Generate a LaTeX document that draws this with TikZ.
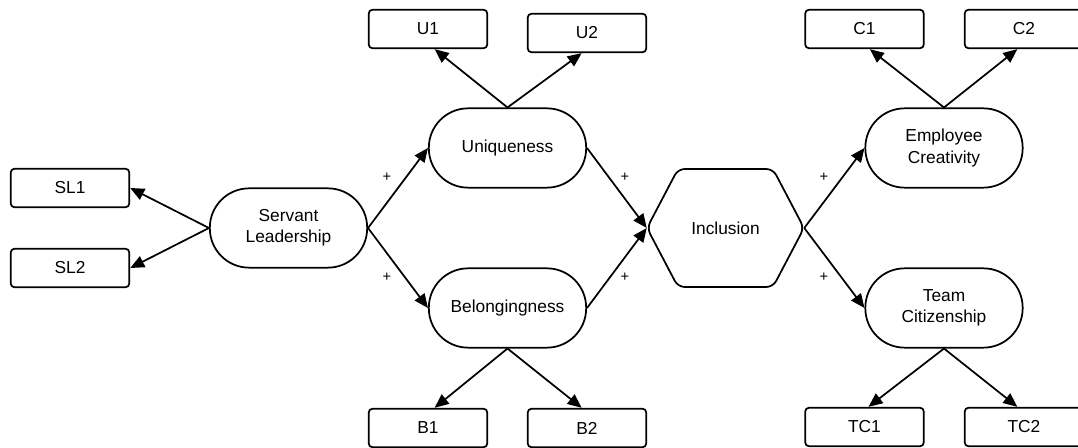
\documentclass[tikz,border=0pt]{standalone}
\usepackage{fontspec}
\setmainfont{Liberation Sans}
\usetikzlibrary{arrows.meta,calc}

\tikzset{
  ind/.style={draw, line width=1.3pt, rounded corners=3pt, minimum width=89pt,
    minimum height=29pt, inner sep=0pt, font=\fontsize{13}{15.5}\selectfont},
  construct/.style={draw, line width=1.3pt, rounded corners=29.5pt, minimum width=118pt,
    minimum height=59.5pt, inner sep=0pt, align=center,
    font=\fontsize{13}{15.8}\selectfont},
  link/.style={line width=1.3pt, -{Triangle[length=10.5pt,width=9pt]}},
  sign/.style={font=\fontsize{11}{13}\selectfont, inner sep=0pt}
}

\begin{document}
\begin{tikzpicture}[x=0.75pt,y=-0.75pt]
  \useasboundingbox (0,0) rectangle (1078,448);
  \clip (0,0) rectangle (1078,448);

  % latent constructs
  \node[construct] (serv)   at (288.5,228) {Servant\\Leadership};
  \node[construct] (uniq)   at (507.5,148) {Uniqueness};
  \node[construct] (belong) at (507.5,308) {Belongingness};
  \node[construct] (ec)     at (944,148)   {Employee\\Creativity};
  \node[construct] (tc)     at (944,308)   {Team\\Citizenship};

  % mediator: hexagon around the text node
  \node[minimum width=117.75pt, minimum height=88.5pt, inner sep=0pt,
        font=\fontsize{13}{15.5}\selectfont] (incl) at (725.5,228) {Inclusion};
  \draw[line width=1.3pt, rounded corners=5pt]
    (647,228) -- (678,169) -- (773,169) -- (804,228) -- (773,287) -- (678,287) -- cycle;

  % indicators
  \node[ind] (sl1) at (70,188)    {SL1};
  \node[ind] (sl2) at (70,268)    {SL2};
  \node[ind] (u1)  at (428,29)    {U1};
  \node[ind] (u2)  at (587,33)    {U2};
  \node[ind] (b1)  at (428,428)   {B1};
  \node[ind] (b2)  at (587,428)   {B2};
  \node[ind] (c1)  at (864.5,29)  {C1};
  \node[ind] (c2)  at (1024,29)   {C2};
  \node[ind] (tc1) at (864.5,427) {TC1};
  \node[ind] (tc2) at (1024,427)  {TC2};

  % measurement arrows
  \draw[link] (serv.west) -- (sl1.east);
  \draw[link] (serv.west) -- (sl2.east);
  \draw[link] (uniq.north) -- ([xshift=5pt]u1.south);
  \draw[link] (uniq.north) -- ([xshift=-4pt]u2.south);
  \draw[link] (belong.south) -- ([xshift=5pt]b1.north);
  \draw[link] (belong.south) -- ([xshift=-4pt]b2.north);
  \draw[link] (ec.north) -- ([xshift=4pt]c1.south);
  \draw[link] (ec.north) -- ([xshift=-5pt]c2.south);
  \draw[link] (tc.south) -- ([xshift=3pt]tc1.north);
  \draw[link] (tc.south) -- ([xshift=-5pt]tc2.north);

  % structural paths
  \draw[link] (serv.east) -- (uniq.west);
  \draw[link] (serv.east) -- (belong.west);
  \draw[link] (uniq.east) -- (incl.west);
  \draw[link] (belong.east) -- (incl.west);
  \draw[link] (incl.east) -- (ec.west);
  \draw[link] (incl.east) -- (tc.west);

  % path signs
  \node[sign] (p1) at (387,177) {+};
  \node[sign] (p2) at (387,277) {+};
  \node[sign] (p3) at (625,177) {+};
  \node[sign] (p4) at (625,277) {+};
  \node[sign] (p5) at (824,177) {+};
  \node[sign] (p6) at (824,277) {+};
\end{tikzpicture}
\end{document}
